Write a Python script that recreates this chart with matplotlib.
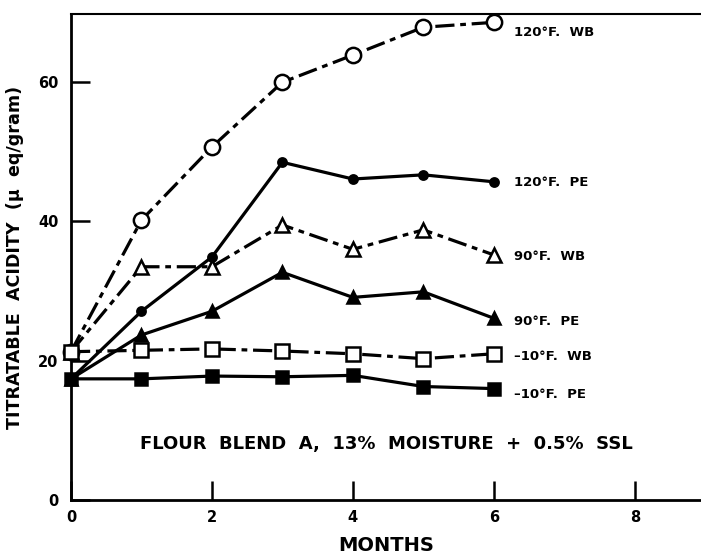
import numpy as np
import matplotlib.pyplot as plt

plt.rcParams['font.family'] = ['DejaVu Sans']
plt.rcParams['font.weight'] = 'bold'

months = [0, 1, 2, 3, 4, 5, 6]

wb_120 = [21.3, 40.2, 50.7, 60.0, 63.9, 67.9, 68.6]
pe_120 = [17.4, 27.1, 34.9, 48.5, 46.1, 46.7, 45.7]
wb_90 = [21.3, 33.5, 33.5, 39.5, 36.0, 38.8, 35.2]
pe_90 = [17.4, 23.7, 27.1, 32.7, 29.1, 29.9, 26.1]
wb_m10 = [21.3, 21.5, 21.7, 21.4, 21.0, 20.3, 21.0]
pe_m10 = [17.4, 17.4, 17.8, 17.7, 17.9, 16.3, 16.0]

names = ["120°F.  WB", "120°F.  PE", "90°F.  WB", "90°F.  PE", "\u201310°F.  WB", "\u201310°F.  PE"]
label_y = [67.2, 45.6, 34.9, 25.6, 20.6, 15.2]

fig = plt.figure(figsize=(7.01, 5.56), dpi=100)
ax = fig.add_axes([71 / 701, 56 / 556, 630 / 701, 486 / 556])

lw = 2.3
dashdot = (6, 1.8, 1.8, 1.8)

series = [
    (wb_120, 'o', 'white', 11, dashdot),
    (pe_120, 'o', 'black', 6, None),
    (wb_90, '^', 'white', 10, dashdot),
    (pe_90, '^', 'black', 8, None),
    (wb_m10, 's', 'white', 10, dashdot),
    (pe_m10, 's', 'black', 8, None),
]

for vals, m, fc, ms, ds in series:
    line, = ax.plot(months, vals, color='black', lw=lw, marker=m, markersize=ms,
                    markerfacecolor=fc, markeredgecolor='black', markeredgewidth=1.8,
                    clip_on=False, zorder=3)
    if ds is not None:
        line.set_dashes(ds)

for name, yy in zip(names, label_y):
    ax.text(6.28, yy, name, fontsize=9.5, fontweight='bold', va='center', ha='left')

ax.text(4.47, 8.0, "FLOUR  BLEND  A,  13%  MOISTURE  +  0.5%  SSL", fontsize=13,
        fontweight='bold', ha='center', va='center')

ax.set_xlim(0, 8.94)
ax.set_ylim(0, 69.8)
ax.set_xticks([0, 2, 4, 6, 8])
ax.set_yticks([0, 20, 40, 60])
ax.tick_params(direction='in', length=14, width=1.8, labelsize=10.5)
ax.tick_params(axis='y', pad=9)
ax.tick_params(axis='x', pad=7)
for lab in ax.get_xticklabels() + ax.get_yticklabels():
    lab.set_fontweight('bold')

ax.spines['right'].set_visible(False)
for s in ['left', 'bottom']:
    ax.spines[s].set_linewidth(2.0)
ax.spines['top'].set_linewidth(1.5)

ax.set_xlabel("MONTHS", fontsize=14, fontweight='bold', labelpad=8)
ax.set_ylabel("TITRATABLE  ACIDITY  (μ  eq/gram)", fontsize=12.6, fontweight='bold', labelpad=10)

fig.savefig("out.png", dpi=100)
